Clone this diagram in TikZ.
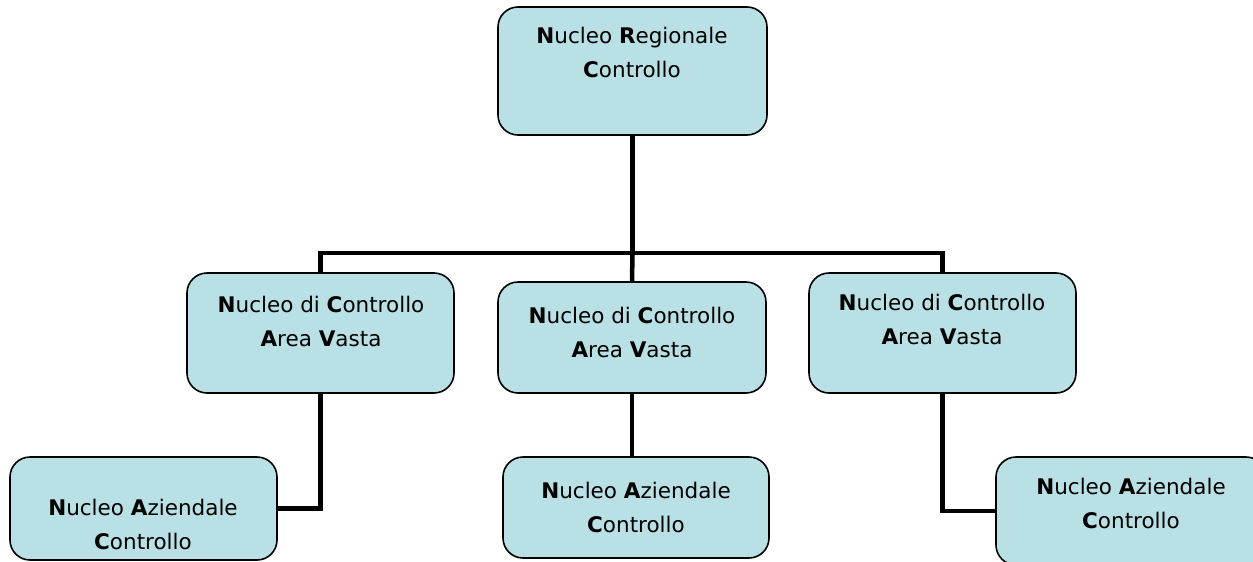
\documentclass[tikz,border=0pt]{standalone}
\usepackage{fontspec}
\setmainfont{DejaVu Sans}
\definecolor{boxfill}{RGB}{185,224,229}
\begin{document}
\begin{tikzpicture}[x=1pt,y=-1pt,
  box/.style={draw=black,line width=1.6pt,fill=boxfill,rounded corners=20pt,inner sep=0pt},
  lbl/.style={anchor=north,align=center,inner sep=0pt,font=\fontsize{21.5}{34}\selectfont},
  conn/.style={line width=4.5pt}]
\useasboundingbox (0,0) rectangle (1253,562);
% boxes
\node[box,minimum width=269pt,minimum height=128pt] (top) at (632.5,71) {};
\node[box,minimum width=267pt,minimum height=120pt] (lc) at (320.5,333) {};
\node[box,minimum width=268pt,minimum height=111pt] (mc) at (632,337.5) {};
\node[box,minimum width=267pt,minimum height=120pt] (rc) at (942.5,333) {};
\node[box,minimum width=267pt,minimum height=103pt] (bl) at (143.5,508.5) {};
\node[box,minimum width=266pt,minimum height=101pt] (bm) at (636,507.5) {};
\node[box,minimum width=270pt,minimum height=108pt] (br) at (1131,511) {};
% labels
\node[lbl] (ttop) at (632,27) {\textbf{N}ucleo \textbf{R}egionale\\\textbf{C}ontrollo};
\node[lbl] (tlc) at (321,296) {\textbf{N}ucleo di \textbf{C}ontrollo\\\textbf{A}rea \textbf{V}asta};
\node[lbl] (tmc) at (632,307) {\textbf{N}ucleo di \textbf{C}ontrollo\\\textbf{A}rea \textbf{V}asta};
\node[lbl] (trc) at (942,294) {\textbf{N}ucleo di \textbf{C}ontrollo\\\textbf{A}rea \textbf{V}asta};
\node[lbl] (tbl) at (143,499) {\textbf{N}ucleo \textbf{A}ziendale\\\textbf{C}ontrollo};
\node[lbl] (tbm) at (636,482) {\textbf{N}ucleo \textbf{A}ziendale\\\textbf{C}ontrollo};
\node[lbl] (tbr) at (1131,478) {\textbf{N}ucleo \textbf{A}ziendale\\\textbf{C}ontrollo};
% connectors
\coordinate (j) at (top.south |- 0,253);
\draw[conn] (top.south) -- (j);
\draw[conn] (lc.north) |- (j) -| (rc.north);
\draw[conn] (j) -- (mc.north);
\draw[conn] (lc.south) |- (bl.east);
\draw[conn] (mc.south) -- (bm.north -| mc.south);
\draw[conn] (rc.south) |- (br.west);
\end{tikzpicture}
\end{document}
